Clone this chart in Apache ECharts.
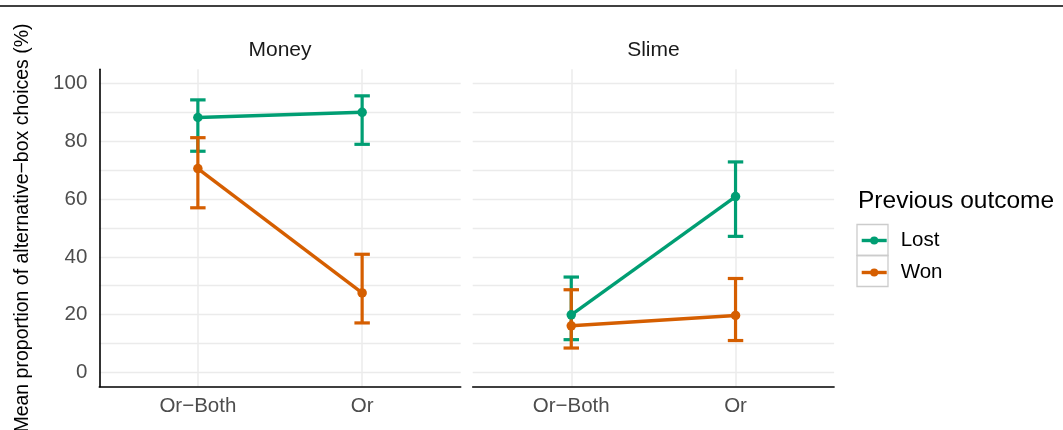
<!DOCTYPE html>
<html>
<head>
<meta charset="utf-8">
<script src="https://cdn.jsdelivr.net/npm/echarts@6/dist/echarts.min.js"></script>
<style>html,body{margin:0;padding:0;background:#fff;}#chart{width:1063px;height:430px;}</style>
</head>
<body>
<div id="chart"></div>
<script>
// ---- data ----
const categories = ['Or\u2212Both', 'Or'];
const panels = ['Money', 'Slime'];
const outcomes = ['Lost', 'Won'];
const yTicks = [0, 20, 40, 60, 80, 100];
const yGridValues = [0, 10, 20, 30, 40, 50, 60, 70, 80, 90, 100];

const moneyLost = [88.3, 90.1];
const moneyLostLower = [76.6, 79.0];
const moneyLostUpper = [94.4, 95.8];
const moneyWon = [70.6, 27.5];
const moneyWonLower = [57.0, 17.1];
const moneyWonUpper = [81.3, 40.9];

const slimeLost = [19.9, 60.9];
const slimeLostLower = [11.3, 47.1];
const slimeLostUpper = [33.0, 72.9];
const slimeWon = [16.1, 19.7];
const slimeWonLower = [8.4, 11.0];
const slimeWonUpper = [28.6, 32.5];

// ---- styling ----
const colors = { Lost: '#009E73', Won: '#D55E00' };
const FONT = "'Liberation Sans', Arial, sans-serif";
const catPos = categories.map((c, i) => i + 1);

const chart = echarts.init(document.getElementById('chart'), null, { renderer: 'canvas' });

function lineSeries(name, gi, vals) {
  return {
    type: 'line', name: name, xAxisIndex: gi, yAxisIndex: gi,
    data: vals.map((v, i) => [catPos[i], v]),
    symbol: 'circle', symbolSize: 9.5, showSymbol: true,
    lineStyle: { color: colors[name], width: 3.4 },
    itemStyle: { color: colors[name] },
    emphasis: { disabled: true },
    z: 3
  };
}
function errSeries(name, gi, lower, upper) {
  return {
    type: 'custom', name: name, xAxisIndex: gi, yAxisIndex: gi,
    data: lower.map((lo, i) => [catPos[i], lo, upper[i]]),
    encode: { x: 0, y: [1, 2] },
    z: 2,
    renderItem: function (params, api) {
      const x = api.value(0), lo = api.value(1), hi = api.value(2);
      const pLo = api.coord([x, lo]);
      const pHi = api.coord([x, hi]);
      const half = api.coord([x + 0.047, lo])[0] - pLo[0];
      const st = { stroke: colors[name], lineWidth: 3.2 };
      return {
        type: 'group', children: [
          { type: 'line', shape: { x1: pLo[0], y1: pLo[1], x2: pHi[0], y2: pHi[1] }, style: st },
          { type: 'line', shape: { x1: pLo[0] - half, y1: pLo[1], x2: pLo[0] + half, y2: pLo[1] }, style: st },
          { type: 'line', shape: { x1: pHi[0] - half, y1: pHi[1], x2: pHi[0] + half, y2: pHi[1] }, style: st }
        ]
      };
    }
  };
}

const gridW = 361.4, gridH = 317.4, gridTop = 69.3;
const gridLefts = [99.3, 472.7];

const xAxes = gridLefts.map((l, gi) => ({
  type: 'value', gridIndex: gi, min: 0.4, max: 2.6,
  axisLine: { show: true, onZero: false, lineStyle: { color: '#000', width: 1.6 } },
  axisTick: { show: false, customValues: catPos },
  axisLabel: {
    customValues: catPos, color: '#4d4d4d', fontSize: 20.5, fontFamily: FONT, margin: 9,
    formatter: v => categories[Math.round(v) - 1] || ''
  },
  splitLine: { show: true, lineStyle: { color: '#ebebeb', width: 1.5 } }
}));
const yAxes = gridLefts.map((l, gi) => ({
  type: 'value', gridIndex: gi, min: -5, max: 105,
  axisLine: { show: gi === 0, lineStyle: { color: '#000', width: 1.6 } },
  axisTick: { show: false, customValues: yGridValues },
  axisLabel: { show: gi === 0, customValues: yTicks, color: '#4d4d4d', fontSize: 20.5, fontFamily: FONT, margin: 12 },
  splitLine: { show: true, lineStyle: { color: '#ebebeb', width: 1.3 } },
  name: gi === 0 ? 'Mean proportion of alternative\u2212box choices (%)' : '',
  nameLocation: 'middle', nameGap: 67,
  nameTextStyle: { color: '#000', fontSize: 19.5, fontFamily: FONT }
}));

const option = {
  animation: false,
  backgroundColor: '#fff',
  textStyle: { fontFamily: FONT },
  grid: gridLefts.map(l => ({ left: l, top: gridTop, width: gridW, height: gridH, outerBoundsMode: 'none', containLabel: false })),
  xAxis: xAxes,
  yAxis: yAxes,
  legend: {
    data: outcomes, orient: 'vertical', left: 860, top: 230, padding: 0,
    itemWidth: 25, itemHeight: 10, itemGap: 11,
    selectedMode: false,
    lineStyle: { width: 3.4 },
    textStyle: { fontSize: 20.5, color: '#000', fontFamily: FONT, lineHeight: 20, padding: [0, 0, 0, 9] }
  },
  graphic: [
    { type: 'line', shape: { x1: 0, y1: 6, x2: 1063, y2: 6 }, style: { stroke: '#000', lineWidth: 1.5 } },
    { type: 'text', x: gridLefts[0] + gridW / 2, y: 50, style: { text: panels[0], align: 'center', verticalAlign: 'middle', font: '21px ' + FONT, fill: '#1a1a1a' } },
    { type: 'text', x: gridLefts[1] + gridW / 2, y: 50, style: { text: panels[1], align: 'center', verticalAlign: 'middle', font: '21px ' + FONT, fill: '#1a1a1a' } },
    { type: 'text', x: 858, y: 201.5, style: { text: 'Previous outcome', align: 'left', verticalAlign: 'middle', font: '24.5px ' + FONT, fill: '#000' } },
    { type: 'rect', shape: { x: 857, y: 224.5, width: 31, height: 31 }, style: { fill: 'none', stroke: '#cccccc', lineWidth: 1.3 }, z: -1 },
    { type: 'rect', shape: { x: 857, y: 255.5, width: 31, height: 31 }, style: { fill: 'none', stroke: '#cccccc', lineWidth: 1.3 }, z: -1 }
  ],
  series: [
    lineSeries('Lost', 0, moneyLost),
    lineSeries('Won', 0, moneyWon),
    lineSeries('Lost', 1, slimeLost),
    lineSeries('Won', 1, slimeWon),
    errSeries('Lost', 0, moneyLostLower, moneyLostUpper),
    errSeries('Won', 0, moneyWonLower, moneyWonUpper),
    errSeries('Lost', 1, slimeLostLower, slimeLostUpper),
    errSeries('Won', 1, slimeWonLower, slimeWonUpper)
  ]
};
chart.setOption(option);
</script>
</body>
</html>
